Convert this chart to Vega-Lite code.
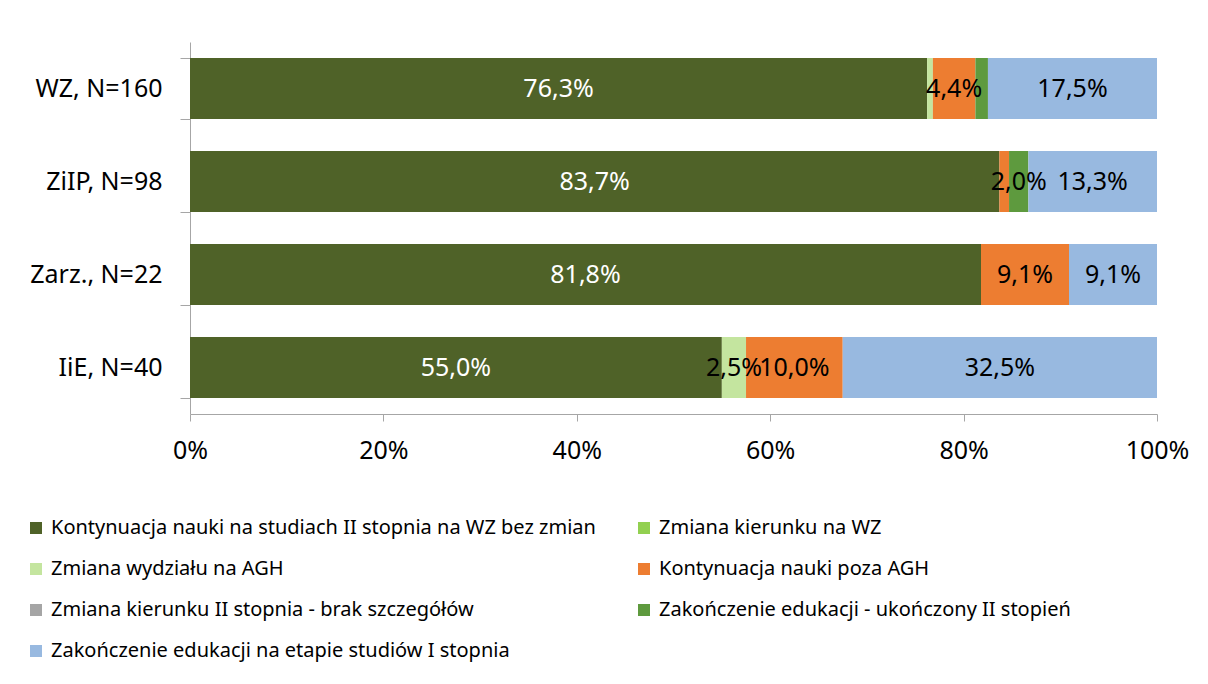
{
  "$schema": "https://vega.github.io/schema/vega-lite/v6.json",
  "autosize": {"type": "none"},
  "padding": {"left": 190, "top": 42, "right": 51, "bottom": 270},
  "width": 967,
  "height": 372,
  "background": "white",
  "config": {
    "font": "Noto Sans",
    "view": {"stroke": null},
    "axis": {"labelFont": "Noto Sans", "labelColor": "#000000", "domainColor": "#a6a6a6", "tickColor": "#a6a6a6", "grid": false, "title": null}
  },
  "data": {
    "values": [
      {"cat": "WZ, N=160", "series": "Kontynuacja nauki na studiach II stopnia na WZ bez zmian", "value": 76.3},
      {"cat": "WZ, N=160", "series": "Zmiana wydziału na AGH", "value": 0.6},
      {"cat": "WZ, N=160", "series": "Kontynuacja nauki poza AGH", "value": 4.4},
      {"cat": "WZ, N=160", "series": "Zakończenie edukacji - ukończony II stopień", "value": 1.3},
      {"cat": "WZ, N=160", "series": "Zakończenie edukacji na etapie studiów I stopnia", "value": 17.5},
      {"cat": "ZiIP, N=98", "series": "Kontynuacja nauki na studiach II stopnia na WZ bez zmian", "value": 83.7},
      {"cat": "ZiIP, N=98", "series": "Kontynuacja nauki poza AGH", "value": 1.0},
      {"cat": "ZiIP, N=98", "series": "Zakończenie edukacji - ukończony II stopień", "value": 2.0},
      {"cat": "ZiIP, N=98", "series": "Zakończenie edukacji na etapie studiów I stopnia", "value": 13.3},
      {"cat": "Zarz., N=22", "series": "Kontynuacja nauki na studiach II stopnia na WZ bez zmian", "value": 81.8},
      {"cat": "Zarz., N=22", "series": "Kontynuacja nauki poza AGH", "value": 9.1},
      {"cat": "Zarz., N=22", "series": "Zakończenie edukacji na etapie studiów I stopnia", "value": 9.1},
      {"cat": "IiE, N=40", "series": "Kontynuacja nauki na studiach II stopnia na WZ bez zmian", "value": 55.0},
      {"cat": "IiE, N=40", "series": "Zmiana wydziału na AGH", "value": 2.5},
      {"cat": "IiE, N=40", "series": "Kontynuacja nauki poza AGH", "value": 10.0},
      {"cat": "IiE, N=40", "series": "Zakończenie edukacji na etapie studiów I stopnia", "value": 32.5}
    ]
  },
  "transform": [
    {"calculate": "indexof(['Kontynuacja nauki na studiach II stopnia na WZ bez zmian','Zmiana kierunku na WZ','Zmiana wydziału na AGH','Kontynuacja nauki poza AGH','Zmiana kierunku II stopnia - brak szczegółów','Zakończenie edukacji - ukończony II stopień','Zakończenie edukacji na etapie studiów I stopnia'], datum.series)", "as": "ord"},
    {"stack": "value", "groupby": ["cat"], "sort": [{"field": "ord", "order": "ascending"}], "offset": "normalize", "as": ["x0", "x1"]},
    {"calculate": "(datum.x0 + datum.x1) / 2", "as": "mid"},
    {"calculate": "replace(format(datum.value, '.1f'), '.', ',') + '%'", "as": "lbl"}
  ],
  "encoding": {
    "y": {
      "field": "cat", "type": "nominal",
      "sort": ["WZ, N=160", "ZiIP, N=98", "Zarz., N=22", "IiE, N=40"],
      "scale": {"paddingInner": 0.344, "paddingOuter": 0.172},
      "axis": {"labelFontSize": 25, "labelPadding": 18, "tickSize": 10, "tickBand": "extent", "domainColor": "#a6a6a6"}
    }
  },
  "layer": [
    {
      "mark": {"type": "bar"},
      "encoding": {
        "x": {
          "field": "x0", "type": "quantitative",
          "scale": {"domain": [0, 1], "nice": false},
          "axis": {"format": ".0%", "values": [0, 0.2, 0.4, 0.6, 0.8, 1], "labelFontSize": 25, "tickSize": 7, "labelPadding": 17, "labelFlush": false, "labelOverlap": false}
        },
        "x2": {"field": "x1"},
        "color": {
          "field": "series", "type": "nominal",
          "scale": {
            "domain": ["Kontynuacja nauki na studiach II stopnia na WZ bez zmian", "Zmiana kierunku na WZ", "Zmiana wydziału na AGH", "Kontynuacja nauki poza AGH", "Zmiana kierunku II stopnia - brak szczegółów", "Zakończenie edukacji - ukończony II stopień", "Zakończenie edukacji na etapie studiów I stopnia"],
            "range": ["#4f6228", "#92d050", "#c4e59f", "#ed7d31", "#a5a5a5", "#5e9a3e", "#98b9e0"]
          },
          "legend": {
            "orient": "none", "legendX": -164, "legendY": 476, "columns": 2, "direction": "horizontal", "title": null,
            "symbolType": "square", "symbolSize": 144, "symbolStrokeWidth": 0, "symbolOpacity": 1,
            "labelFontSize": 20, "labelFont": "Noto Sans", "labelColor": "#000000", "labelLimit": 700,
            "rowPadding": 21, "columnPadding": 38, "labelOffset": 5
          }
        }
      }
    },
    {
      "transform": [{"filter": "datum.value >= 1.9"}],
      "mark": {"type": "text", "fontSize": 25, "font": "Noto Sans", "baseline": "middle", "align": "center"},
      "encoding": {
        "x": {"field": "mid", "type": "quantitative"},
        "text": {"field": "lbl"},
        "color": {"condition": {"test": "datum.series === 'Kontynuacja nauki na studiach II stopnia na WZ bez zmian'", "value": "#ffffff"}, "value": "#000000"}
      }
    }
  ]
}
